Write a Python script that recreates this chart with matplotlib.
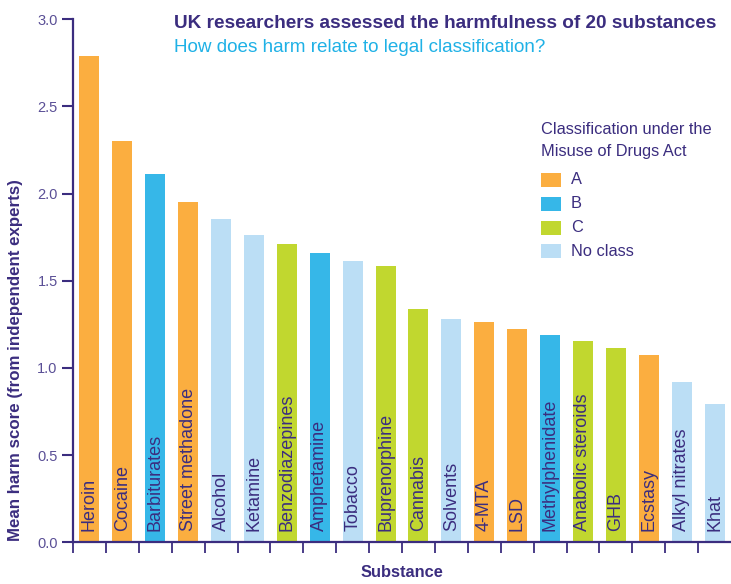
import matplotlib
matplotlib.use("Agg")
import matplotlib.pyplot as plt
from matplotlib.patches import Rectangle

# Daten
substances = ["Heroin", "Cocaine", "Barbiturates", "Street methadone", "Alcohol",
              "Ketamine", "Benzodiazepines", "Amphetamine", "Tobacco", "Buprenorphine",
              "Cannabis", "Solvents", "4-MTA", "LSD", "Methylphenidate",
              "Anabolic steroids", "GHB", "Ecstasy", "Alkyl nitrates", "Khat"]
harm = [2.79, 2.30, 2.11, 1.95, 1.855, 1.765, 1.71, 1.66, 1.615, 1.585,
        1.34, 1.28, 1.265, 1.225, 1.19, 1.155, 1.115, 1.075, 0.92, 0.795]
drug_class = ["A", "A", "B", "A", "none", "none", "C", "B", "none", "C",
              "C", "none", "A", "A", "B", "C", "C", "A", "none", "none"]

class_names = ["A", "B", "C", "No class"]
class_keys = ["A", "B", "C", "none"]
class_colors = {"A": "#FBAE40", "B": "#36B7E8", "C": "#C1D72F", "none": "#BBDEF5"}

dark = "#3B2D7F"
tick_col = "#5A4F96"

plt.rcParams["font.family"] = ["Liberation Sans", "DejaVu Sans"]

W, H = 731, 584
fig = plt.figure(figsize=(W / 100, H / 100), dpi=100)
ax = fig.add_axes([73 / W, 1 - 542.3 / H, 1 - 73 / W, 523 / H])

x = list(range(len(substances)))
colors = [class_colors[c] for c in drug_class]
ax.bar(x, harm, width=0.61, color=colors, zorder=2)

# Namen in die Balken schreiben
for i, name in enumerate(substances):
    ax.text(i, 0.062, name, rotation=90, ha="center", va="bottom",
            fontsize=13, color=dark, zorder=3)

ax.set_xlim(-0.5, len(substances) - 0.5)
ax.set_ylim(0, 3.0)
ax.set_yticks([0.0, 0.5, 1.0, 1.5, 2.0, 2.5, 3.0])
ax.set_yticklabels(["0.0", "0.5", "1.0", "1.5", "2.0", "2.5", "3.0"])
ax.set_xticks([i - 0.5 for i in x])
ax.set_xticklabels([])
ax.tick_params(axis="y", direction="out", length=8, width=1.5, color=dark,
               labelcolor=tick_col, labelsize=10.5, pad=3)
ax.tick_params(axis="x", direction="out", length=8, width=1.3, color=dark)

for side in ["top", "right"]:
    ax.spines[side].set_visible(False)
for side in ["left", "bottom"]:
    ax.spines[side].set_color(dark)
    ax.spines[side].set_linewidth(1.6)

ax.set_ylabel("Mean harm score (from independent experts)", fontsize=12.2,
              fontweight="bold", color=dark)
ax.yaxis.set_label_coords(-0.076, 0.349)
ax.set_xlabel("Substance", fontsize=11.8, fontweight="bold", color=dark, labelpad=5)

# Titel
fig.text(174 / W, 1 - 23 / H, "UK researchers assessed the harmfulness of 20 substances",
         fontsize=13.7, fontweight="bold", color=dark, va="center", ha="left")
fig.text(174 / W, 1 - 47 / H, "How does harm relate to legal classification?",
         fontsize=13.6, color="#1FB1E6", va="center", ha="left")

# Legende von Hand
fig.text(541 / W, 1 - 130 / H, "Classification under the", fontsize=11.8,
         color=dark, va="center", ha="left")
fig.text(541 / W, 1 - 152 / H, "Misuse of Drugs Act", fontsize=11.8,
         color=dark, va="center", ha="left")
for j, (k, name) in enumerate(zip(class_keys, class_names)):
    yc = 180 + j * 23.8
    fig.add_artist(Rectangle((541 / W, 1 - (yc + 7) / H), 20 / W, 14 / H,
                             transform=fig.transFigure, facecolor=class_colors[k],
                             edgecolor="none"))
    fig.text(571 / W, 1 - yc / H, name, fontsize=11.8, color=dark,
             va="center", ha="left")

fig.savefig("out.png", dpi=100)
